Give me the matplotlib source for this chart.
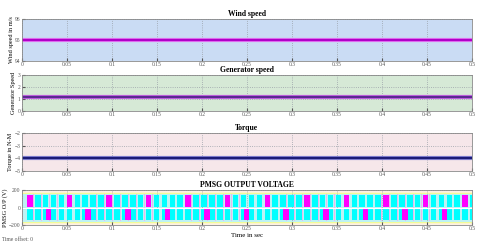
import numpy as np
import matplotlib
matplotlib.use('Agg')
import matplotlib.pyplot as plt

plt.rcParams['font.family'] = ['Liberation Serif', 'DejaVu Serif']

# datos
t_end = 0.5
xticks = [0, 0.05, 0.1, 0.15, 0.2, 0.25, 0.3, 0.35, 0.4, 0.45, 0.5]
xtick_labels = ['0', '0.05', '0.1', '0.15', '0.2', '0.25', '0.3', '0.35', '0.4', '0.45', '0.5']

wind_speed = [95, 95]
gen_speed = [1.17, 1.17]
torque = [-4, -4]
t_const = [0, t_end]

# tension PMSG: un periodo del patron de bloques (se repite en todo el tiempo)
period = 0.044
slot_start = [0.0055, 0.0143, 0.0231, 0.0319, 0.0407]
top_colors = ['#ff00ff', '#00ffff', '#00ffff', '#00ffff', '#00ffff']
bottom_colors = ['#00ffff', '#00ffff', '#00ffff', '#00ffff', '#00ffff']
bottom_mag = 0.0265
block_w = 0.0062
v_peak = 150

fig = plt.figure(figsize=(4.8, 2.43), dpi=100)
left, width = 0.046, 0.937
boxes = [(0.749, 0.173), (0.543, 0.148), (0.296, 0.157), (0.074, 0.144)]
titles = ['Wind speed', 'Generator speed', 'Torque', 'PMSG OUTPUT VOLTAGE']
ylabels = ['Wind speed in m/s', 'Generator Speed', 'Torque in N-M', 'PMSG O/P (V)']
bgs = ['#cadcf4', '#d6e9d6', '#f6e7ea', '#fdf1e4']

axes = []
for (b, h), tt, yl, bg in zip(boxes, titles, ylabels, bgs):
    ax = fig.add_axes([left, b, width, h])
    ax.set_facecolor(bg)
    ax.set_title(tt, fontsize=5.5, fontweight='bold', pad=2)
    ax.set_ylabel(yl, fontsize=4.5, labelpad=1)
    ax.set_xlim(0, t_end)
    ax.set_xticks(xticks)
    ax.set_xticklabels(xtick_labels)
    ax.tick_params(labelsize=4, direction='in', length=2, pad=1, colors='#555555')
    ax.grid(True, color='#9aa0a8', linestyle=':', linewidth=0.6)
    for s in ax.spines.values():
        s.set_color('#888888')
        s.set_linewidth(0.6)
    axes.append(ax)

axes[0].plot(t_const, wind_speed, color='#e070f0', lw=3)
axes[0].plot(t_const, wind_speed, color='#b000c8', lw=1.5)
axes[0].set_ylim(94, 96)
axes[0].set_yticks([94, 95, 96])

axes[1].plot(t_const, gen_speed, color='#c060e0', lw=3)
axes[1].plot(t_const, gen_speed, color='#5a2a90', lw=1.5)
axes[1].set_ylim(0, 3)
axes[1].set_yticks([0, 1, 2, 3])

axes[2].plot(t_const, torque, color='#8080d0', lw=3)
axes[2].plot(t_const, torque, color='#1c1c78', lw=1.5)
axes[2].set_ylim(-5, -2)
axes[2].set_yticks([-5, -4, -3, -2])

ax = axes[3]
ax.set_ylim(-200, 200)
ax.set_yticks([-200, 0, 200])
ax.axhspan(-v_peak - 12, v_peak + 12, color='#ffff80', zorder=1)
ax.axhspan(-v_peak, v_peak, color='#bdf2f4', zorder=1.2)
n_per = int(np.ceil(t_end / period)) + 1
for k in range(n_per):
    for s, ct, cb in zip(slot_start, top_colors, bottom_colors):
        x0 = k * period + s
        if x0 >= t_end:
            continue
        w = min(block_w, t_end - x0)
        ax.bar(x0, v_peak - 6, width=w, bottom=3, align='edge', color=ct, zorder=2)
        ax.bar(x0, -(v_peak - 6), width=w, bottom=-3, align='edge', color=cb, zorder=2)
        # franjas claras entre bloques
        ax.bar(x0 + w + 0.0006, 2 * v_peak, width=0.0007, bottom=-v_peak, align='edge',
               color='#e6b8f0', zorder=2)
    xm = k * period + bottom_mag
    if xm < t_end:
        ax.bar(xm, -(v_peak - 6), width=min(block_w, t_end - xm), bottom=-3,
               align='edge', color='#ff00ff', zorder=2.1)
ax.axhline(0, color='#ffffff', lw=0.8, zorder=2.5)
ax.set_xlabel('Time in sec', fontsize=5, labelpad=1)
fig.text(0.005, 0.01, 'Time offset: 0', fontsize=4, color='#555555')

fig.savefig('out.png', dpi=100)
